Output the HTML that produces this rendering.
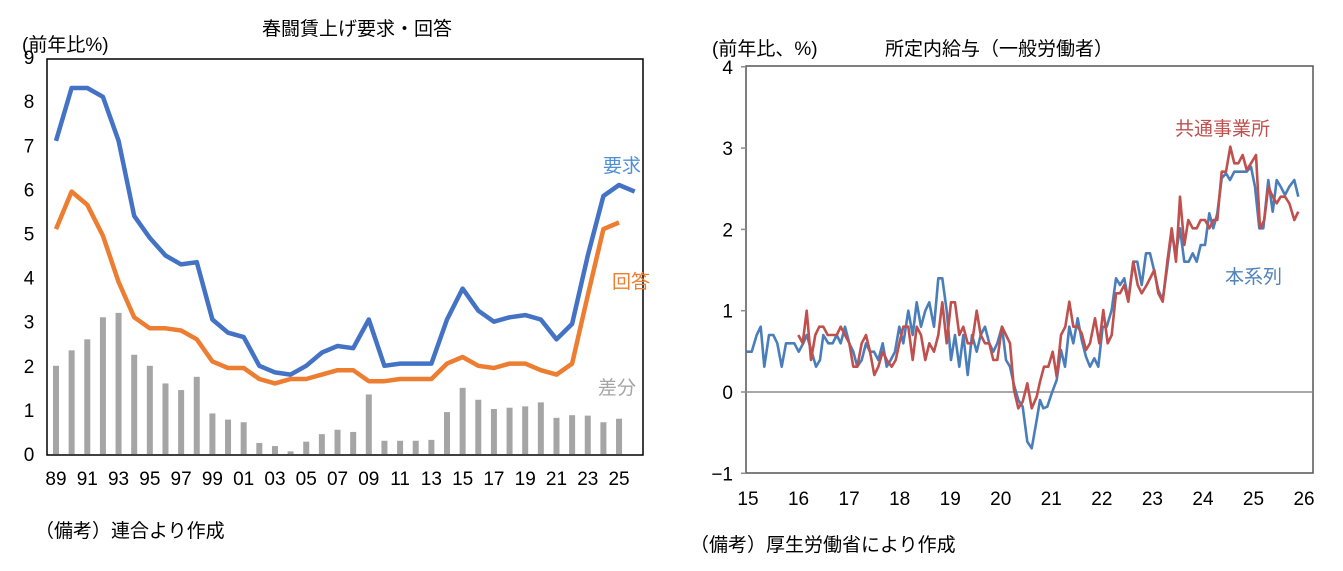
<!DOCTYPE html><html><head><meta charset="utf-8"><style>body{margin:0;background:#fff}svg text{font-family:"Liberation Sans","Noto Sans CJK JP",sans-serif}</style></head><body>
<svg id="s" width="1343" height="566" xmlns="http://www.w3.org/2000/svg">
<g font-size="19" fill="#000">
<text x="357" y="35" text-anchor="middle">春闘賃上げ要求・回答</text>
<text x="22" y="51">(前年比%)</text>
<text x="35" y="537">（備考）連合より作成</text>
<text x="712" y="55">(前年比、%)</text>
<text x="885" y="55">所定内給与（一般労働者）</text>
<text x="690" y="551">（備考）厚生労働省により作成</text>
</g>
<g id="L"></g><g id="R"></g>
<text x="603" y="172" font-size="19" fill="#4f8fd6">要求</text>
<text x="612" y="288" font-size="19" fill="#ed7d31">回答</text>
<text x="598" y="394" font-size="19" fill="#a5a5a5">差分</text>
<text x="1175" y="135" font-size="19" fill="#c0504d">共通事業所</text>
<text x="1225" y="283" font-size="19" fill="#4f81bd">本系列</text>
</svg>
<script>
const NS="http://www.w3.org/2000/svg";
function el(g,t,a,txt){const e=document.createElementNS(NS,t);for(const k in a)e.setAttribute(k,a[k]);if(txt!==undefined)e.textContent=txt;document.getElementById(g).appendChild(e);return e;}
const X=y=>56+(y-1989)*15.64, Y=v=>454-v*44.1;
const bars=[2.0,2.35,2.6,3.1,3.2,2.25,2.0,1.6,1.45,1.75,0.92,0.78,0.72,0.25,0.18,0.06,0.28,0.45,0.55,0.5,1.35,0.3,0.3,0.3,0.32,0.95,1.5,1.23,1.02,1.05,1.08,1.17,0.82,0.88,0.87,0.72,0.8];
bars.forEach((v,i)=>el("L","rect",{x:X(1989+i)-3,y:Y(v),width:6,height:454-Y(v),fill:"#a5a5a5"}));
const blue=[7.1,8.3,8.3,8.1,7.1,5.4,4.9,4.5,4.3,4.35,3.05,2.75,2.65,2.0,1.85,1.8,2.0,2.3,2.45,2.4,3.05,2.0,2.05,2.05,2.05,3.05,3.75,3.25,3.0,3.1,3.15,3.05,2.6,2.95,4.5,5.85,6.1,5.95];
const ora=[5.1,5.95,5.65,4.95,3.9,3.1,2.85,2.85,2.8,2.6,2.1,1.95,1.95,1.7,1.6,1.7,1.7,1.8,1.9,1.9,1.65,1.65,1.7,1.7,1.7,2.05,2.2,2.0,1.95,2.05,2.05,1.9,1.8,2.05,3.6,5.1,5.25];
const pl=a=>a.map((v,i)=>X(1989+i).toFixed(1)+","+Y(v).toFixed(1)).join(" ");
el("L","polyline",{points:pl(ora),fill:"none",stroke:"#ed7d31","stroke-width":4.5,"stroke-linejoin":"round"});
el("L","polyline",{points:pl(blue),fill:"none",stroke:"#4472c4","stroke-width":4.5,"stroke-linejoin":"round"});
el("L","rect",{x:47,y:59,width:596,height:396,fill:"none",stroke:"#000","stroke-width":1.5});
for(let v=0;v<=9;v++)el("L","text",{x:29,y:Y(v)+7,"font-size":19,"text-anchor":"middle"},v);
for(let y=1989;y<=2025;y+=2)el("L","text",{x:X(y),y:485,"font-size":19,"text-anchor":"middle"},String(y%100).padStart(2,"0"));
const RY=v=>392-v*81.3;
el("R","rect",{x:746,y:66,width:567,height:407,fill:"none",stroke:"#555","stroke-width":1.5});
el("R","line",{x1:746,y1:392,x2:1313,y2:392,stroke:"#8c8c8c","stroke-width":1.5});
for(let v=-1;v<=4;v++){el("R","line",{x1:741,y1:RY(v),x2:746,y2:RY(v),stroke:"#8c8c8c","stroke-width":1.5});el("R","text",{x:733,y:RY(v)+7,"font-size":19,"text-anchor":"end"},v<0?"−1":v);}
for(let y=15;y<=26;y++)el("R","text",{x:748+(y-15)*50.55,y:505,"font-size":19,"text-anchor":"middle"},y);
const b2=[[20,755],[35,755],[50,705],[62,680],[73,800],[87,705],[100,705],[112,730],[125,800],[138,730],[150,730],[163,730],[176,755],[190,730],[200,705],[215,755],[228,800],[240,780],[250,705],[265,730],[278,730],[290,705],[302,730],[315,680],[328,730],[340,755],[352,800],[365,780],[378,730],[390,755],[402,755],[415,780],[428,730],[440,800],[452,780],[465,755],[478,680],[490,730],[505,632],[518,705],[530,607],[543,680],[556,632],[568,607],[582,680],[595,535],[607,535],[620,632],[633,780],[645,705],[658,800],[670,705],[683,825],[696,705],[710,755],[722,705],[735,680],[748,730],[760,755],[772,730],[786,680],[798,780],[810,800],[822,855],[835,900],[848,920],[862,1025],[875,1045],[890,960],[900,900]];
const b3=[[40,925],[52,920],[65,880],[80,840],[93,750],[105,800],[118,680],[130,730],[143,655],[155,720],[168,770],[180,800],[193,775],[205,800],[218,680],[230,680],[245,630],[258,535],[270,555],[283,535],[295,600],[310,485],[322,485],[335,555],[348,460],[360,460],[372,510],[385,570],[398,600],[412,500],[425,400],[438,460],[450,385],[463,485],[476,485],[488,460],[500,485],[512,435],[525,435],[538,340],[550,385],[562,340],[575,235],[588,220],[600,240],[613,215],[625,215],[638,215],[650,215],[663,200],[675,260],[688,385],[700,385],[715,240],[728,335],[740,240],[752,260],[765,285],[778,260],[793,240],[805,290]];
const r2=[[175,705],[188,730],[200,632],[213,780],[226,705],[238,680],[250,680],[263,705],[276,705],[290,705],[302,680],[315,705],[328,730],[340,800],[352,800],[365,730],[378,705],[390,755],[403,825],[415,800],[428,755],[440,780],[455,800],[467,780],[478,730],[490,680],[505,680],[518,780],[530,680],[543,705],[556,780],[568,730],[582,755],[595,705],[607,607],[620,730],[633,607],[645,607],[658,705],[670,680],[683,730],[696,730],[710,632],[722,705],[735,730],[748,730],[760,780],[772,780],[786,680],[798,705],[810,730],[822,870],[835,925],[848,905],[862,850],[875,925],[890,890],[900,845]];
const r3=[[42,800],[55,800],[68,755],[80,830],[93,705],[106,680],[118,605],[130,680],[143,680],[155,700],[168,750],[180,730],[195,655],[208,730],[220,630],[233,730],[245,705],[258,580],[270,580],[283,555],[295,605],[310,485],[323,555],[335,580],[350,555],[373,510],[385,580],[398,605],[412,485],[425,385],[438,485],[450,290],[463,435],[475,360],[488,385],[500,385],[512,360],[525,360],[538,385],[550,360],[562,360],[575,215],[588,215],[601,140],[613,190],[625,190],[638,165],[650,210],[663,190],[678,165],[690,385],[703,360],[715,260],[728,290],[740,310],[752,290],[765,290],[778,310],[793,360],[805,335]];
const cv=(a,ox)=>a.map(p=>(ox+p[0]/3).toFixed(1)+","+(100+p[1]/3).toFixed(1)).join(" ");
el("R","polyline",{points:cv(b2,740)+" "+cv(b3,1030),fill:"none",stroke:"#4a7ebb","stroke-width":2.6,"stroke-linejoin":"round"});
el("R","polyline",{points:cv(r2,740)+" "+cv(r3,1030),fill:"none",stroke:"#c0504d","stroke-width":2.6,"stroke-linejoin":"round"});
</script></body></html>
